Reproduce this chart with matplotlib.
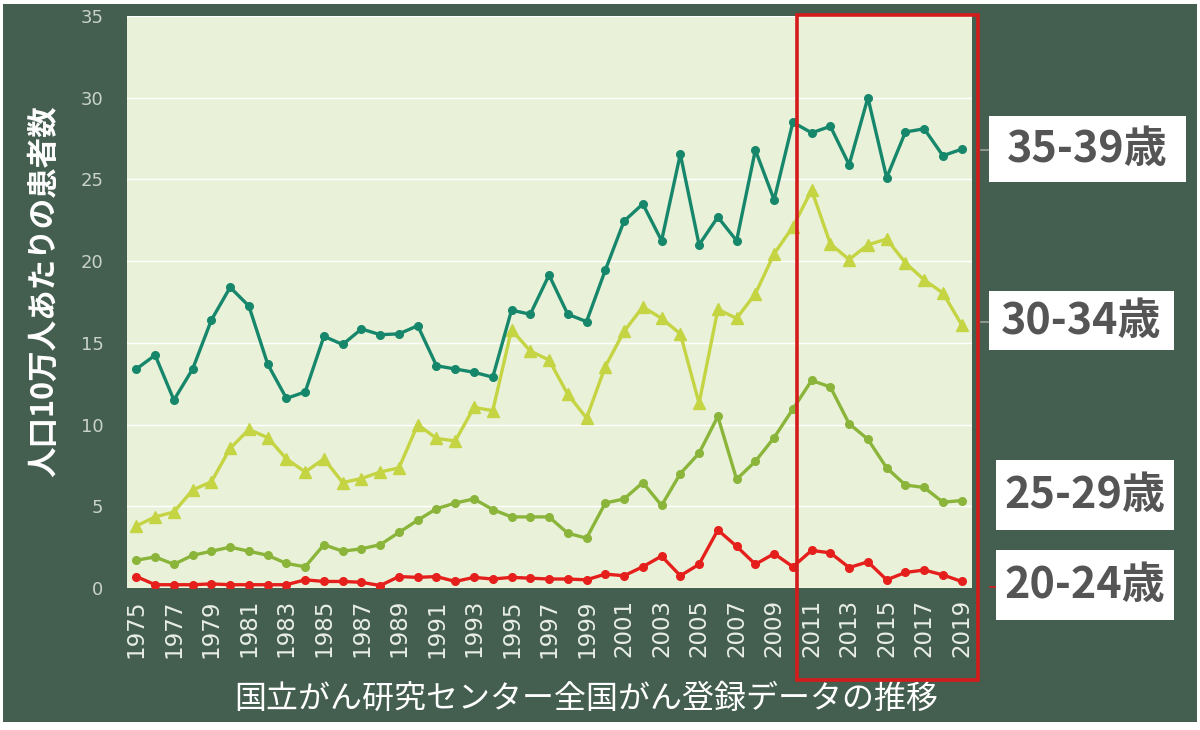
import matplotlib
matplotlib.use("Agg")
import matplotlib.pyplot as plt
from matplotlib.patches import Rectangle
from matplotlib.lines import Line2D

plt.rcParams['font.family'] = ['Noto Sans CJK JP', 'DejaVu Sans']

years = list(range(1975, 2020))

# 35-39歳
age_35_39 = [13.4, 14.25, 11.5, 13.4, 16.4, 18.4, 17.25, 13.7, 11.6, 12.0,
             15.4, 14.9, 15.85, 15.5, 15.55, 16.05, 13.6, 13.4, 13.2, 12.9,
             17.0, 16.75, 19.15, 16.75, 16.3, 19.45, 22.45, 23.5, 21.25, 26.55,
             21.0, 22.7, 21.25, 26.8, 23.75, 28.5, 27.85, 28.25, 25.9, 30.0,
             25.1, 27.9, 28.1, 26.45, 26.85]
# 30-34歳
age_30_34 = [3.8, 4.35, 4.65, 6.0, 6.5, 8.55, 9.7, 9.2, 7.9, 7.1,
             7.9, 6.45, 6.7, 7.1, 7.35, 10.0, 9.15, 9.0, 11.05, 10.85,
             15.8, 14.5, 13.95, 11.85, 10.4, 13.55, 15.7, 17.2, 16.5, 15.55,
             11.3, 17.05, 16.5, 18.0, 20.45, 22.1, 24.35, 21.05, 20.1, 21.0,
             21.35, 19.9, 18.85, 18.05, 16.1]
# 25-29歳
age_25_29 = [1.7, 1.9, 1.45, 2.0, 2.25, 2.5, 2.25, 2.0, 1.5, 1.3,
             2.65, 2.25, 2.4, 2.65, 3.4, 4.15, 4.85, 5.2, 5.45, 4.8,
             4.35, 4.35, 4.35, 3.35, 3.05, 5.2, 5.45, 6.45, 5.05, 7.0,
             8.25, 10.5, 6.65, 7.75, 9.2, 10.95, 12.7, 12.3, 10.05, 9.1,
             7.35, 6.3, 6.15, 5.25, 5.35]
# 20-24歳
age_20_24 = [0.7, 0.2, 0.2, 0.2, 0.25, 0.2, 0.2, 0.2, 0.2, 0.5,
             0.4, 0.4, 0.35, 0.15, 0.7, 0.65, 0.7, 0.4, 0.65, 0.55,
             0.65, 0.6, 0.55, 0.55, 0.5, 0.85, 0.75, 1.3, 1.95, 0.75,
             1.45, 3.55, 2.55, 1.45, 2.1, 1.3, 2.3, 2.15, 1.25, 1.6,
             0.5, 0.95, 1.1, 0.8, 0.4]

series_labels = ['35-39歳', '30-34歳', '25-29歳', '20-24歳']
tick_years = list(range(1975, 2020, 2))
y_ticks = [0, 5, 10, 15, 20, 25, 30, 35]

BG = '#445e4f'
FACE = '#e9f2d8'

fig = plt.figure(figsize=(12, 7.3), dpi=100, facecolor='white')
fig.patches.append(Rectangle((3 / 1200, 1 - 722 / 730), 1194 / 1200, 718 / 730,
                             transform=fig.transFigure, facecolor=BG,
                             edgecolor='none', zorder=-10))

ax = fig.add_axes([127 / 1200, 1 - 588 / 730, 845 / 1200, 572 / 730])
ax.set_facecolor(FACE)
for s in ax.spines.values():
    s.set_visible(False)

ax.plot(years, age_35_39, color='#17876c', lw=2.4, marker='o', ms=5.5, zorder=5)
ax.plot(years, age_30_34, color='#c4d443', lw=2.4, marker='^', ms=8, zorder=4)
ax.plot(years, age_25_29, color='#8ab53a', lw=2.4, marker='o', ms=5.5, zorder=3)
ax.plot(years, age_20_24, color='#e5201c', lw=2.4, marker='o', ms=5.5, zorder=6)

ax.set_xlim(1974.5, 2019.55)
ax.set_ylim(0, 35)
ax.set_yticks(y_ticks)
ax.set_xticks(tick_years)
ax.set_xticklabels([str(y) for y in tick_years], rotation=90,
                   fontsize=16.5, color='#e8eee6', family='DejaVu Sans')
ax.set_yticklabels([str(v) for v in y_ticks], fontsize=13,
                   color='#c9d3cb', family='DejaVu Sans')
ax.tick_params(axis='both', length=0)
ax.tick_params(axis='x', pad=8)
ax.tick_params(axis='y', pad=17)
ax.grid(axis='y', color='white', lw=1.0)
ax.set_axisbelow(True)

fig.text(44 / 1200, 1 - 291 / 730, '人口10万人あたりの患者数', rotation=90,
         ha='center', va='center', fontsize=22, color='white', fontweight='bold')
fig.text(586 / 1200, 1 - 699 / 730, '国立がん研究センター全国がん登録データの推移',
         ha='center', va='center', fontsize=23, color='white')

# 赤枠
fig.patches.append(Rectangle((797 / 1200, 1 - 680 / 730), 181 / 1200, 665 / 730,
                             transform=fig.transFigure, facecolor='none',
                             edgecolor='#d41c1c', lw=2.6, zorder=20))

# ラベル
boxes = [(989, 1186, 116, 182), (989, 1174, 291, 350),
         (996, 1174, 460, 530), (996, 1174, 550, 620)]
for label, (x0, x1, y0, y1) in zip(series_labels, boxes):
    fig.patches.append(Rectangle((x0 / 1200, 1 - y1 / 730), (x1 - x0) / 1200,
                                 (y1 - y0) / 730, transform=fig.transFigure,
                                 facecolor='white', edgecolor='none', zorder=15))
    fig.text((x0 + x1) / 2 / 1200, 1 - (y0 + y1) / 2 / 730, label,
             ha='center', va='center', fontsize=31, color='#555555',
             fontweight='bold', zorder=16)

for (xa, xb, yy, c) in [(981, 989, 150, '#9aa39c'), (981, 989, 322, '#9aa39c'),
                        (990, 997, 587, '#d41c1c')]:
    fig.lines.append(Line2D([xa / 1200, xb / 1200], [1 - yy / 730, 1 - yy / 730],
                            transform=fig.transFigure, color=c, lw=1.2))

fig.savefig('out.png', dpi=100, facecolor='white')
